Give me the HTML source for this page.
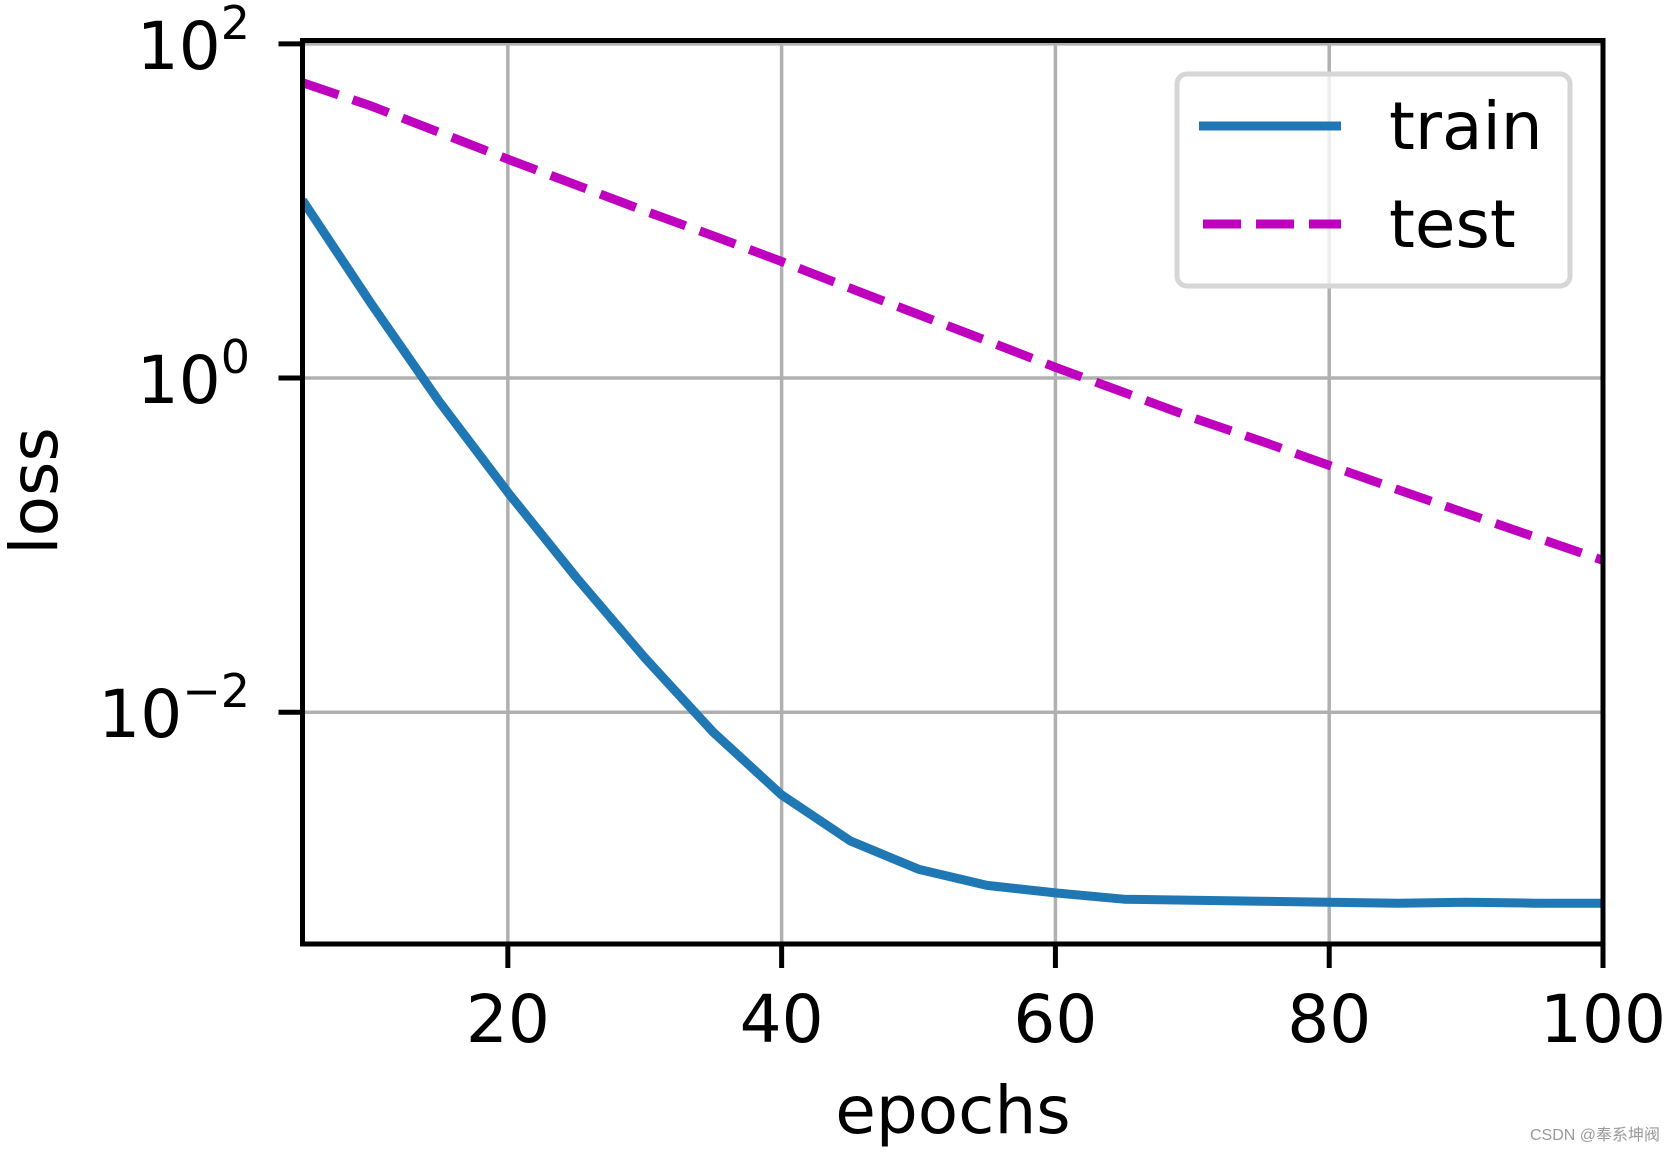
<!DOCTYPE html>
<html><head><meta charset="utf-8"><style>
html,body{margin:0;padding:0;background:#fff;}
svg{display:block;}
text{font-family:"DejaVu Sans","Liberation Sans",sans-serif;fill:#000;}
</style></head><body>
<svg id="chart" width="1675" height="1156" viewBox="0 0 1675 1156" xmlns="http://www.w3.org/2000/svg">
<g id="grid"></g>
<g id="series"></g>
<rect x="302.5" y="40.5" width="1300.5" height="903.5" fill="none" stroke="#000" stroke-width="5"/>
<g id="ticks"></g>
<text x="953" y="1133" font-size="66" text-anchor="middle">epochs</text>
<text transform="translate(57,491) rotate(-90)" font-size="66" text-anchor="middle">loss</text>
<g>
<rect x="1177" y="74" width="393" height="212" rx="10" fill="#fff" fill-opacity="0.8" stroke="#d6d6d6" stroke-width="5"/>
<line x1="1199" y1="126" x2="1341" y2="126" stroke="#1f77b4" stroke-width="9"/>
<text x="1389" y="149" font-size="66">train</text>
<line x1="1203" y1="224" x2="1341" y2="224" stroke="#bf00bf" stroke-width="9" stroke-dasharray="38 15"/>
<text x="1389" y="247" font-size="66">test</text>
</g>
<text x="1660" y="1140" font-size="16" text-anchor="end" style="fill:#9a9a9a;font-family:'Liberation Sans','Noto Sans CJK SC',sans-serif">CSDN @奉系坤阀</text>
</svg>
<script>
const epochs=[5,10,15,20,25,30,35,40,45,50,55,60,65,70,75,80,85,90,95,100];
const trainLoss=[11.6,2.8,0.72,0.207,0.064,0.0212,0.0076,0.0032,0.0017,0.00115,0.00092,0.00083,0.00076,0.00075,0.00074,0.00073,0.00072,0.00073,0.00072,0.00072];
const testLoss=[58.6,42.5,29.5,20.4,14.3,10.0,7.1,4.98,3.45,2.4,1.67,1.16,0.82,0.58,0.42,0.30,0.215,0.155,0.112,0.081];
const xTicks=[20,40,60,80,100];
const yTickExps=[2,0,-2];
const NS='http://www.w3.org/2000/svg';
const X0=302.5,X1=1603,Y_TOP=40.5,Y_BOT=944;
const xMin=5,xMax=100,lMax=2.02,lMin=-3.387;
function xs(v){return X0+(v-xMin)/(xMax-xMin)*(X1-X0);}
function ys(v){return Y_TOP+(lMax-Math.log10(v))/(lMax-lMin)*(Y_BOT-Y_TOP);}
function mk(tag,attrs,parent){const e=document.createElementNS(NS,tag);for(const k in attrs)e.setAttribute(k,attrs[k]);parent.appendChild(e);return e;}
const grid=document.getElementById('grid'),ticks=document.getElementById('ticks'),series=document.getElementById('series');
xTicks.forEach(t=>{
  const x=xs(t);
  const g=mk('line',{x1:x,y1:Y_TOP,x2:x,y2:Y_BOT,stroke:'#b0b0b0','stroke-width':3.5},grid);
  
  
  const tk=mk('line',{x1:x,y1:Y_BOT,x2:x,y2:Y_BOT+24,stroke:'#000','stroke-width':5},ticks);
  
  
  const lb=mk('text',{x:x,y:1042,'font-size':66,'text-anchor':'middle'},ticks);
  lb.textContent=String(t);
  
  
});
yTickExps.forEach(e=>{
  const y=ys(Math.pow(10,e));
  const g=mk('line',{x1:X0,y1:y,x2:X1,y2:y,stroke:'#b0b0b0','stroke-width':3.5},grid);
  
  
  const tk=mk('line',{x1:X0-24,y1:y,x2:X0,y2:y,stroke:'#000','stroke-width':5},ticks);
  
  
  const lb=mk('text',{x:250,y:y+25,'font-size':66,'text-anchor':'end'},ticks);
  
  
  const base=mk('tspan',{},lb);base.textContent='10';
  const sup=mk('tspan',{'font-size':46,dy:-30},lb);sup.textContent=(e<0?'\u2212':'')+Math.abs(e);
});
function path(vals){return vals.map((v,i)=>(i?'L':'M')+xs(epochs[i]).toFixed(1)+','+ys(v).toFixed(1)).join(' ');}
const clip=mk('clipPath',{id:'pc'},series);
mk('rect',{x:X0,y:Y_TOP,width:X1-X0,height:Y_BOT-Y_TOP},clip);
const tr=mk('path',{d:path(trainLoss),fill:'none',stroke:'#1f77b4','stroke-width':9,'stroke-linejoin':'round','clip-path':'url(#pc)'},series);


const te=mk('path',{d:path(testLoss),fill:'none',stroke:'#bf00bf','stroke-width':9,'stroke-dasharray':'38 15','clip-path':'url(#pc)'},series);


</script>
</body></html>
